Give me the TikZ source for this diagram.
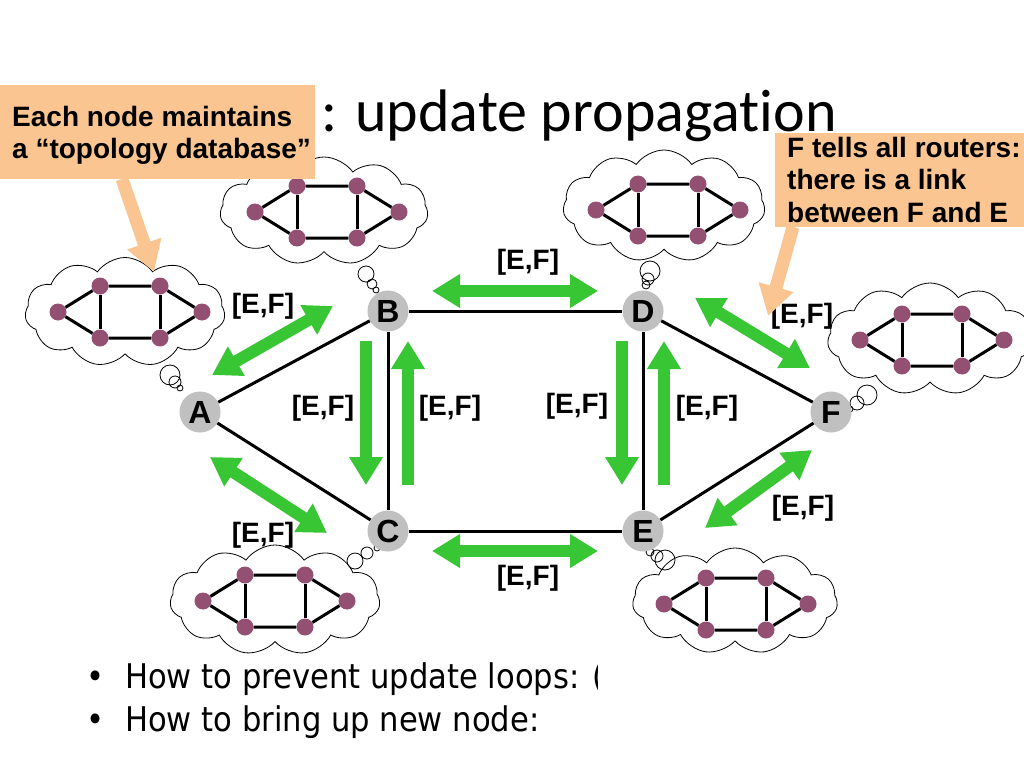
\documentclass[tikz,border=0pt]{standalone}
\usepackage{fontspec}
\setmainfont{Liberation Sans}
\newfontfamily\titlefont[Ligatures=NoCommon]{Carlito}
\newfontfamily\bulletfont[FakeStretch=0.9]{DejaVu Sans}
\usetikzlibrary{arrows.meta,shapes.symbols}
\definecolor{grn}{RGB}{57,198,52}
\definecolor{orng}{RGB}{250,197,145}
\definecolor{purp}{RGB}{148,80,114}
\definecolor{ngray}{RGB}{192,192,192}
\tikzset{
 router/.style={circle, fill=ngray, minimum size=41pt, inner sep=0pt, font=\fontsize{32}{32}\selectfont\bfseries},
 link/.style={line width=3pt},
 gone/.style={draw=grn, line width=12pt, -{Triangle[length=28pt,width=32pt]}},
 gtwo/.style={draw=grn, line width=12pt, {Triangle[length=28pt,width=32pt]}-{Triangle[length=28pt,width=32pt]}},
 lbl/.style={font=\fontsize{28}{28}\selectfont\bfseries, inner sep=0pt},
 thought/.style={cloud, cloud puffs=11, cloud puff arc=110, cloud ignores aspect, draw, line width=0.8pt, fill=white, inner sep=0pt},
 bub/.style={line width=0.8pt},
 pdot/.style={circle, fill=purp, minimum size=17pt, inner sep=0pt},
 tlink/.style={line width=3pt},
 obox/.style={fill=orng, draw=none},
 otext/.style={font=\fontsize{28}{28}\selectfont\bfseries, anchor=base west, inner sep=0pt},
 btext/.style={font=\bulletfont\fontsize{34}{34}\selectfont, anchor=base west, inner sep=0pt},
 oarrow/.style={draw=orng, line width=13pt, -{Triangle[length=30pt,width=34pt]}},
 topo/.pic={
   \node[pdot] (-l) at (-72,0) {};
   \node[pdot] (-tl) at (-30,-26) {};
   \node[pdot] (-tr) at (30,-26) {};
   \node[pdot] (-r) at (72,0) {};
   \node[pdot] (-bl) at (-30,26) {};
   \node[pdot] (-br) at (30,26) {};
   \draw[tlink] (-l) -- (-tl) -- (-tr) -- (-r) -- (-br) -- (-bl) -- (-l);
   \draw[tlink] (-tl) -- (-bl);
   \draw[tlink] (-tr) -- (-br);
 }
}
\begin{document}
\begin{tikzpicture}[x=1pt,y=-1pt]
\useasboundingbox[fill=white] (0,0) rectangle (1024,768);

% title
\node[anchor=base west, inner sep=0pt, font=\titlefont\fontsize{60}{60}\selectfont] (title) at (321,131) {: update propagation};

% clouds
\node[thought, minimum width=208pt, minimum height=108pt] (cB) at (324,211) {};
\node[thought, minimum width=202pt, minimum height=112pt] (cD) at (664,206) {};
\node[thought, minimum width=200pt, minimum height=109pt] (cA) at (125,312) {};
\node[thought, minimum width=205pt, minimum height=112pt] (cF) at (930,339) {};
\node[thought, minimum width=210pt, minimum height=110pt] (cC) at (275,600) {};
\node[thought, minimum width=205pt, minimum height=106pt] (cE) at (735,601) {};
\pic (gB) at (327,212) {topo};
\pic (gD) at (668,210) {topo};
\pic (gA) at (130,312) {topo};
\pic (gF) at (932,340) {topo};
\pic (gC) at (275,601) {topo};
\pic (gE) at (736,604) {topo};

% thought bubbles
\draw[bub] (366,274) circle (8) (372,284) circle (5) (376,290) circle (3);
\draw[bub] (650,271) circle (10) (648,279) circle (6) (646,285) circle (4);
\draw[bub] (170,375) circle (10) (175,382) circle (6) (180,388) circle (3);
\draw[bub] (867,395) circle (10) (857,403) circle (7) (850,409) circle (3);
\draw[bub] (355,561) circle (8) (367,553) circle (6) (377,548) circle (3);
\draw[bub] (665,560) circle (10) (657,556) circle (6) (650,552) circle (4);

% routers
\node[router] (A) at (200,412) {A};
\node[router] (B) at (388,311) {B};
\node[router] (C) at (388,531) {C};
\node[router] (D) at (643,311) {D};
\node[router] (E) at (643,531) {E};
\node[router] (F) at (831,412) {F};
\draw[link] (A) -- (B);
\draw[link] (A) -- (C);
\draw[link] (B) -- (D);
\draw[link] (B) -- (C);
\draw[link] (C) -- (E);
\draw[link] (D) -- (E);
\draw[link] (D) -- (F);
\draw[link] (E) -- (F);

% green arrows
\coordinate (bd1) at (432,291); \coordinate (bd2) at (598,291);
\coordinate (ce1) at (432,551); \coordinate (ce2) at (598,551);
\coordinate (ab1) at (212,375); \coordinate (ab2) at (333,306);
\coordinate (ac1) at (210,457); \coordinate (ac2) at (327,533);
\coordinate (df1) at (695,298); \coordinate (df2) at (810,368);
\coordinate (ef1) at (705,528); \coordinate (ef2) at (812,450);
\coordinate (bc1) at (366,341); \coordinate (bc2) at (366,485);
\coordinate (cb1) at (408,485); \coordinate (cb2) at (408,341);
\coordinate (de1) at (622,341); \coordinate (de2) at (622,485);
\coordinate (ed1) at (664,485); \coordinate (ed2) at (664,341);
\draw[gtwo] (bd1) -- (bd2);
\draw[gtwo] (ce1) -- (ce2);
\draw[gtwo] (ab1) -- (ab2);
\draw[gtwo] (ac1) -- (ac2);
\draw[gtwo] (df1) -- (df2);
\draw[gtwo] (ef1) -- (ef2);
\draw[gone] (bc1) -- (bc2);
\draw[gone] (cb1) -- (cb2);
\draw[gone] (de1) -- (de2);
\draw[gone] (ed1) -- (ed2);

% labels
\node[lbl] (l1) at (528,262) {[E,F]};
\node[lbl] (l2) at (528,578) {[E,F]};
\node[lbl] (l3) at (263,306) {[E,F]};
\node[lbl] (l4) at (263,535) {[E,F]};
\node[lbl] (l5) at (323,408) {[E,F]};
\node[lbl] (l6) at (450,408) {[E,F]};
\node[lbl] (l7) at (577,406) {[E,F]};
\node[lbl] (l8) at (707,408) {[E,F]};
\node[lbl] (l9) at (802,316) {[E,F]};
\node[lbl] (l10) at (803,508) {[E,F]};

% callouts
\fill[obox] (0,85) rectangle (315,179);
\node[otext] (t1a) at (12,126) {Each node maintains};
\node[otext] (t1b) at (12,158) {a “topology database”};
\coordinate (o1) at (122,179); \coordinate (o2) at (154,272);
\draw[oarrow] (o1) -- (o2);
\fill[obox] (775,133) rectangle (1024,227);
\node[otext] (t2a) at (787,157) {F tells all routers:};
\node[otext] (t2b) at (787,189.5) {there is a link};
\node[otext] (t2c) at (787,222) {between F and E};
\coordinate (o3) at (793,227); \coordinate (o4) at (768,316);
\draw[oarrow] (o3) -- (o4);

% bullets
\node[btext] (d1) at (86,688) {•};
\node[btext] (d2) at (86,731) {•};
\begin{scope}
\clip (0,640) rectangle (597,768);
\node[btext] (b1) at (125,688) {How to prevent update loops: (};
\end{scope}
\node[btext] (b2) at (125,731) {How to bring up new node:};
\end{tikzpicture}
\end{document}
